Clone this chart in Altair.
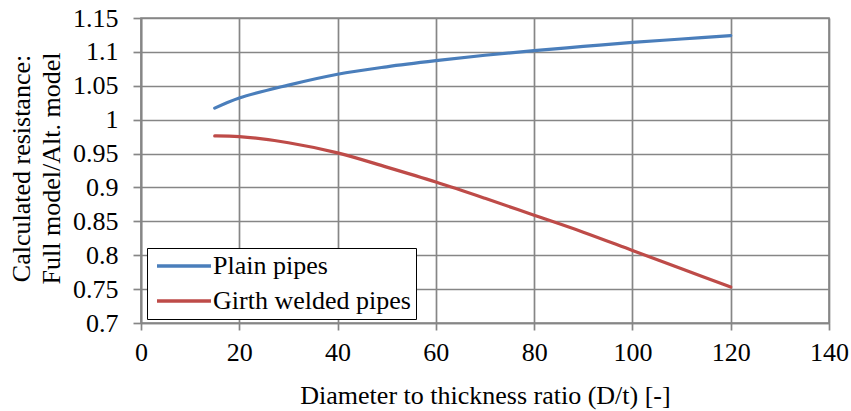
import altair as alt
import pandas as pd

ratio = [15, 20, 30, 40, 50, 60, 70, 80, 90, 100, 110, 120]
plain = [1.017, 1.032, 1.051, 1.067, 1.078, 1.087, 1.095, 1.102, 1.108, 1.114, 1.119, 1.124]
girth = [0.976, 0.975, 0.966, 0.951, 0.930, 0.908, 0.884, 0.859, 0.834, 0.807, 0.780, 0.753]
series = ["Plain pipes", "Girth welded pipes"]
colors = ["#4A7EBB", "#BE4B48"]
x_ticks = [0, 20, 40, 60, 80, 100, 120, 140]
y_ticks = [0.7, 0.75, 0.8, 0.85, 0.9, 0.95, 1.0, 1.05, 1.1, 1.15]

rows = []
for s, vals in zip(series, [plain, girth]):
    for x, v in zip(ratio, vals):
        rows.append({"ratio": x, "value": v, "series": s})
df = pd.DataFrame(rows)

FONT = "Liberation Serif"
GRID = "#868686"

chart = alt.Chart(df).mark_line(strokeWidth=3.2, interpolate="catmull-rom", strokeCap="round").encode(
    x=alt.X("ratio:Q",
            scale=alt.Scale(domain=[0, 140], nice=False),
            axis=alt.Axis(values=x_ticks, title="Diameter to thickness ratio (D/t) [-]",
                          tickSize=7, labelPadding=9, labelFlush=False,
                          titleY=80, titleBaseline="alphabetic")),
    y=alt.Y("value:Q",
            scale=alt.Scale(domain=[0.7, 1.15], nice=False, zero=False),
            axis=alt.Axis(values=y_ticks, format="~g",
                          title=["Calculated resistance:", "Full model/Alt. model"],
                          tickSize=8, labelPadding=15, labelFlush=False,
                          titleX=-112, titleY=150, titleBaseline="alphabetic",
                          titleLineHeight=30, titleAngle=-90, titleAlign="center")),
    color=alt.Color("series:N",
                    scale=alt.Scale(domain=series, range=colors),
                    sort=series,
                    legend=alt.Legend(title=None, orient="none", legendX=6, legendY=230,
                                      direction="vertical",
                                      padding=5, rowPadding=9,
                                      strokeColor="black", fillColor="white",
                                      symbolType="M-2.7,0L2.7,0", symbolSize=400,
                                      symbolStrokeWidth=3.5, symbolOffset=19,
                                      labelOffset=16, labelFont=FONT, labelFontSize=26,
                                      labelColor="black", labelLimit=400)),
).properties(
    width=688, height=305,
    autosize=alt.AutoSizeParams(type="none"),
    padding={"left": 141, "top": 18, "right": 22, "bottom": 88},
    background="white",
).configure_view(
    stroke=GRID, strokeWidth=1.6
).configure_axis(
    grid=True, gridColor=GRID, gridWidth=1.7, gridOpacity=1,
    domainColor=GRID, domainWidth=1.7, tickColor=GRID, tickWidth=1.7,
    labelFont=FONT, labelFontSize=26, labelColor="black",
    titleFont=FONT, titleFontSize=26, titleColor="black", titleFontWeight="normal",
)

chart.save("out.html", embed_options={"renderer": "svg", "actions": False})
